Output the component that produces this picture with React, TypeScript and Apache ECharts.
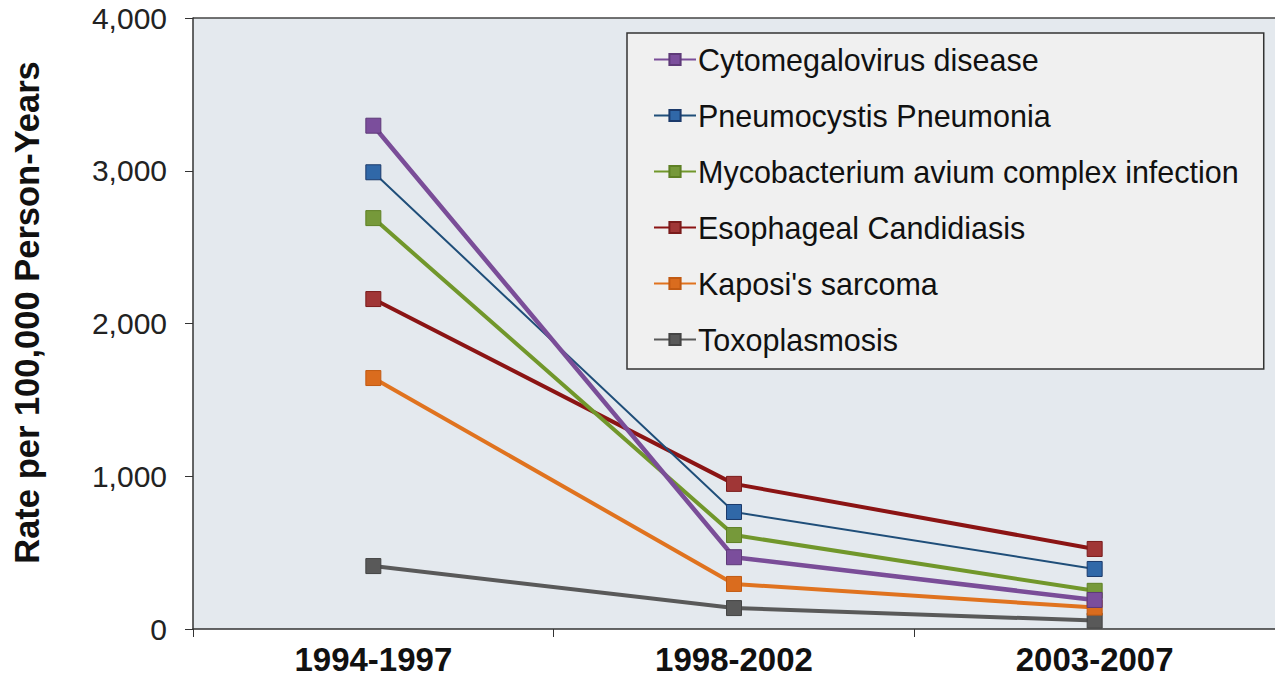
import React, { useEffect, useRef } from "react";
import * as echarts from "echarts";

const categories = ["1994-1997", "1998-2002", "2003-2007"];
const seriesNames = [
  "Cytomegalovirus disease",
  "Pneumocystis Pneumonia",
  "Mycobacterium avium complex infection",
  "Esophageal Candidiasis",
  "Kaposi's sarcoma",
  "Toxoplasmosis",
];
const cmv = [3295, 470, 190];
const pcp = [2990, 766, 393];
const mac = [2690, 615, 250];
const esoph = [2160, 950, 524];
const kaposi = [1643, 295, 140];
const toxo = [412, 137, 55];
const yTicks = [0, 1000, 2000, 3000, 4000];

const seriesValues = [cmv, pcp, mac, esoph, kaposi, toxo];
const lineColors = ["#7A4D98", "#1F4E79", "#71972B", "#8B1414", "#E0731F", "#595959"];
const fillColors = ["#7B4E9C", "#3068A8", "#76993A", "#A03636", "#DA6C1E", "#595959"];
const borderColors = ["#5E3A78", "#1B3A6B", "#5E8024", "#7A1B1B", "#C25A12", "#444444"];
const lineWidths = [4.5, 2, 4, 4, 4, 4];

export default function App() {
  const ref = useRef<HTMLDivElement>(null);
  useEffect(() => {
    if (!ref.current) return;
    const chart = echarts.init(ref.current, undefined, { renderer: "svg" });
    chart.setOption({
      animation: false,
      backgroundColor: "#ffffff",
      grid: {
        left: 193,
        right: 0,
        top: 18,
        bottom: 53,
        show: true,
        backgroundColor: "#E4E9EE",
        borderWidth: 0,
      },
      legend: {
        orient: "vertical",
        left: 627,
        top: 33,
        padding: [11, 25, 14, 26],
        itemWidth: 42,
        itemHeight: 14,
        itemGap: 25,
        backgroundColor: "#F0F0F0",
        borderColor: "#333333",
        borderWidth: 1.5,
        textStyle: {
          fontFamily: "Liberation Sans, Arial, sans-serif",
          fontSize: 30.5,
          lineHeight: 29,
          color: "#111111",
          padding: [0, 0, 0, -3],
        },
        data: seriesNames,
      },
      xAxis: {
        type: "category",
        data: categories,
        boundaryGap: true,
        axisLine: { lineStyle: { color: "#333333", width: 1.5 } },
        axisTick: { show: true, length: 8, lineStyle: { color: "#333333" } },
        axisLabel: {
          fontFamily: "Liberation Sans, Arial, sans-serif",
          fontWeight: "bold",
          fontSize: 33,
          color: "#111111",
          margin: 14,
        },
      },
      yAxis: {
        type: "value",
        min: yTicks[0],
        max: yTicks[yTicks.length - 1],
        interval: 1000,
        name: "Rate per 100,000 Person-Years",
        nameLocation: "middle",
        nameGap: 149,
        nameTextStyle: {
          fontFamily: "Liberation Sans, Arial, sans-serif",
          fontWeight: "bold",
          fontSize: 34.5,
          color: "#111111",
          padding: [0, 0, 0, 22],
        },
        axisLine: { show: true, lineStyle: { color: "#333333", width: 1.5 } },
        axisTick: { show: true, length: 8, lineStyle: { color: "#333333" } },
        splitLine: { show: false },
        axisLabel: {
          fontFamily: "Liberation Sans, Arial, sans-serif",
          fontSize: 30,
          color: "#222222",
          margin: 26,
          formatter: (v: number) => v.toLocaleString("en-US"),
        },
      },
      graphic: [
        {
          type: "line",
          shape: { x1: 193, y1: 18, x2: 1275, y2: 18 },
          style: { stroke: "#444444", lineWidth: 1.5 },
        },
      ],
      series: seriesNames.map((name, i) => ({
        name,
        type: "line",
        data: seriesValues[i],
        symbol: "rect",
        symbolSize: 15,
        lineStyle: { color: lineColors[i], width: lineWidths[i] },
        itemStyle: { color: fillColors[i], borderColor: borderColors[i], borderWidth: 1 },
        z: 10 - i,
      })),
    });
    return () => chart.dispose();
  }, []);
  return (
    <div
      ref={ref}
      style={{ position: "fixed", left: 0, top: 0, width: 1275, height: 682 }}
    />
  );
}
